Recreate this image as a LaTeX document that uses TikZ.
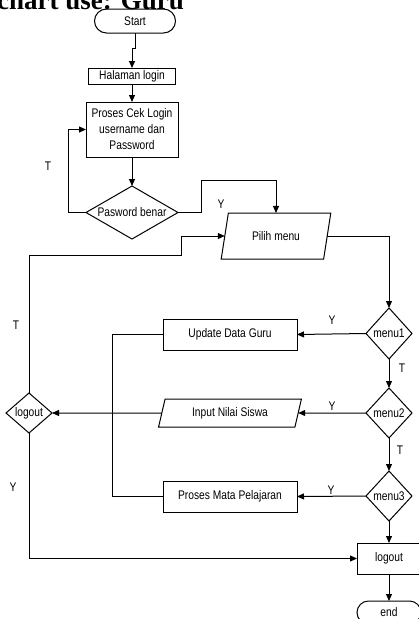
\documentclass[tikz,border=0pt]{standalone}
\usepackage{fontspec}
\usetikzlibrary{shapes.geometric,shapes.misc,arrows.meta}
\newfontfamily\nar[FakeStretch=0.82]{Liberation Sans}
\newfontfamily\ttl{Liberation Serif}
\begin{document}
\begin{tikzpicture}[x=1pt,y=-1pt,
  base/.style={draw=black, line width=1pt, font=\nar\fontsize{12.5}{16}\selectfont, inner sep=0pt, align=center, outer sep=0pt},
  box/.style={base, rectangle},
  term/.style={base, rounded rectangle},
  dec/.style={base, diamond},
  io/.style={base, trapezium, trapezium stretches=true},
  txt/.style={font=\nar\fontsize{12.5}{16}\selectfont, inner sep=0pt},
  ln/.style={draw=black, line width=1pt},
  arr/.style={ln, -{Triangle[length=7pt,width=6pt]}}
]
\useasboundingbox (0,0) rectangle (419,619);
\clip (0,0) rectangle (419,619);

% title (cut off by the top edge)
\node[font=\ttl\bfseries\fontsize{27}{30}\selectfont, anchor=base east, inner sep=0pt] (title) at (184,9.5) {chart use: Guru};

% nodes
\node[term, minimum width=81pt, minimum height=24pt] (start) at (135,21) {Start};
\node[box, minimum width=87pt, minimum height=16pt] (hal) at (132,76) {Halaman login};
\node[box, minimum width=92pt, minimum height=55pt] (cek) at (132,129.5) {Proses Cek Login\\username dan\\Password};
\node[dec, minimum width=92pt, minimum height=53pt] (pw) at (132,212.5) {};
\node[txt] (pwt) at (132,212.5) {Pasword benar};
\node[io, minimum width=110pt, minimum height=46pt, trapezium left angle=68.6, trapezium right angle=111.4] (pilih) at (276,236) {Pilih menu};

\node[dec, minimum width=46pt, minimum height=51pt] (m1) at (389,333.5) {};
\node[txt] (m1t) at (m1) {menu1};
\node[dec, minimum width=46pt, minimum height=50pt] (m2) at (389,413) {};
\node[txt] (m2t) at (m2) {menu2};
\node[dec, minimum width=46pt, minimum height=50pt] (m3) at (389,496) {};
\node[txt] (m3t) at (m3) {menu3};

\node[box, minimum width=134pt, minimum height=31pt] (upd) at (230,334.5) {Update Data Guru};
\node[io, minimum width=144pt, minimum height=28pt, trapezium left angle=72, trapezium right angle=108] (inp) at (230,413) {Input Nilai Siswa};
\node[box, minimum width=134pt, minimum height=31pt] (pmp) at (230,496.5) {Proses Mata Pelajaran};

\node[dec, minimum width=46pt, minimum height=40pt] (lo) at (29,413) {};
\node[txt] (lot) at (lo) {logout};

\node[box, minimum width=64pt, minimum height=31pt] (lob) at (389,558.5) {logout};
\node[term, minimum width=64pt, minimum height=23pt] (end) at (389,612.5) {end};

% connectors
\draw[arr] (start.south) -- ++(0,15) -| (hal.north);
\draw[arr] (hal) -- (cek);
\draw[arr] (cek) -- (pw);
\draw[arr] (pw.west) -- ++(-18,0) |- (cek.west);
\draw[arr] (pw.east) -- ++(23,0) -- ++(0,-32) -| (pilih.north);
\draw[arr] (lo.north) |- (181,255) |- (pilih.west);
\draw[arr] (pilih.east) -| (m1.north);
\draw[arr] (m1.west) -- (upd.east);
\draw[arr] (m1.south) -- (m2.north);
\draw[arr] (m2.west) -- (inp.east);
\draw[arr] (m2.south) -- (m3.north);
\draw[arr] (m3.west) -- (pmp.east);
\draw[arr] (m3.south) -- (lob.north);
\draw[arr] (inp.west) -- (lo.east);
\draw[ln] (upd.west) -- ++(-51,0) |- (pmp.west);
\draw[arr] (lo.south) |- (lob.west);
\draw[arr] (lob.south) -- (end.north);

% labels
\node[txt] (l1) at (48,166) {T};
\node[txt] (l2) at (221,204) {Y};
\node[txt] (l3) at (16,325) {T};
\node[txt] (l4) at (332,320) {Y};
\node[txt] (l5) at (402,368) {T};
\node[txt] (l6) at (332,406) {Y};
\node[txt] (l7) at (13,487) {Y};
\node[txt] (l8) at (400,450) {T};
\node[txt] (l9) at (331,490) {Y};
\end{tikzpicture}
\end{document}
